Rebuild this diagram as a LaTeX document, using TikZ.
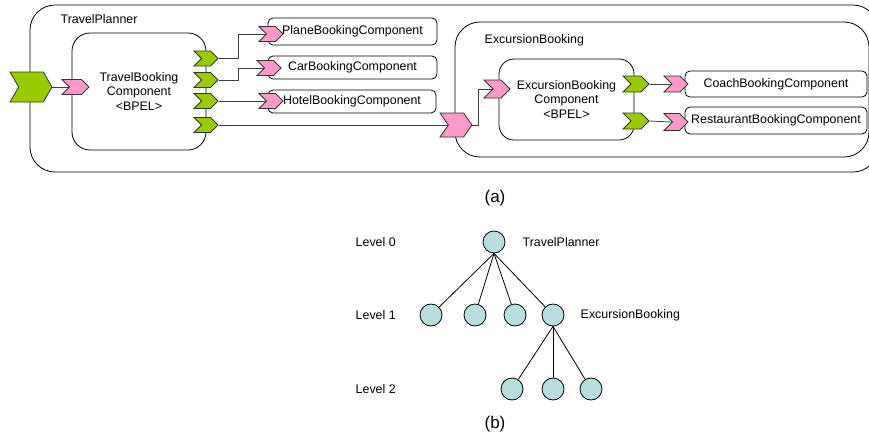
\documentclass[tikz,border=0pt]{standalone}
\usepackage{fontspec}
\setmainfont{Liberation Sans}
\usetikzlibrary{shapes.symbols,backgrounds}

\definecolor{portgreen}{RGB}{153,204,0}
\definecolor{portpink}{RGB}{255,153,204}
\definecolor{nodeblue}{RGB}{183,221,222}
\definecolor{wiregray}{RGB}{64,64,64}

\tikzset{
	port/.style = {signal, signal to = east, signal from = west, draw = black!80, inner sep = 0pt, signal pointer angle = 90},
	outport/.style = {port, fill = portgreen, minimum width = 24pt, minimum height = 15pt},
	inport/.style = {port, fill = portpink, minimum width = 24pt, minimum height = 15pt},
	comp/.style = {draw, rounded corners = 5pt, inner sep = 0pt},
	composite/.style = {draw, rounded corners = 25pt, inner sep = 0pt},
	wire/.style = {draw = wiregray, line width = 0.8pt},
	treenode/.style = {circle, draw, fill = nodeblue, minimum size = 22pt, inner sep = 0pt}
}

\begin{document}
\begin{tikzpicture}[x = 1pt, y = -1pt, line width = 0.8pt, font = \fontsize{12.4}{14.5}\selectfont]

	\clip (0, 0) rectangle (869, 437);
	\useasboundingbox (0, 0) rectangle (869, 437);

	% (a) composite
	\node[composite, minimum width = 848pt, minimum height = 167pt] (travelplanner) at (454, 88.5) {};
	\node[anchor = west] (tplabel) at (57, 19) {TravelPlanner};

	\node[comp, rounded corners = 18pt, minimum width = 134pt, minimum height = 117pt, align = center] (travelbooking) at (139, 91.5) {TravelBooking\\Component\\<BPEL>};

	\node[comp, minimum width = 169pt, minimum height = 27pt] (plane) at (352.5, 31.5) {PlaneBookingComponent};
	\node[comp, minimum width = 169pt, minimum height = 23pt] (car) at (352.5, 67.5) {CarBookingComponent};
	\node[comp, minimum width = 168pt, minimum height = 23pt] (hotel) at (352, 101.5) {HotelBookingComponent};

	\node[composite, minimum width = 414pt, minimum height = 135pt] (excursion) at (662, 89.5) {};
	\node[anchor = west] (exlabel) at (481, 40) {ExcursionBooking};

	\node[comp, rounded corners = 15pt, minimum width = 135pt, minimum height = 81pt, align = center] (excbooking) at (566.5, 99.5) {ExcursionBooking\\Component\\<BPEL>};

	\node[comp, minimum width = 182pt, minimum height = 26pt] (coach) at (776, 84) {CoachBookingComponent};
	\node[comp, minimum width = 182pt, minimum height = 27pt] (restaurant) at (776, 120.5) {RestaurantBookingComponent};

	% ports
	\node[outport, minimum width = 42pt, minimum height = 30pt, signal pointer angle = 120] (tpin) at (31, 87) {};
	\node[inport, minimum width = 27pt] (tbin) at (75.5, 87) {};
	\node[outport] (tbout1) at (206, 58.5) {};
	\node[outport] (tbout2) at (206, 80) {};
	\node[outport] (tbout3) at (206, 101) {};
	\node[outport] (tbout4) at (206, 125) {};
	\node[inport] (plin) at (271, 34) {};
	\node[inport] (carin) at (269, 68) {};
	\node[inport] (hotin) at (271, 101) {};
	\node[inport, minimum width = 32pt, minimum height = 24pt, signal pointer angle = 110] (exin) at (456, 125) {};
	\node[inport, minimum width = 26pt, minimum height = 18pt] (ebin) at (497, 89) {};
	\node[outport, minimum width = 26pt, minimum height = 16pt] (ebout1) at (636, 84) {};
	\node[outport, minimum width = 26pt, minimum height = 16pt] (ebout2) at (636, 121) {};
	\node[inport, minimum height = 16pt] (coin) at (676, 84) {};
	\node[inport, minimum height = 17pt] (rein) at (676, 122) {};

	\begin{scope}[on background layer]
		\draw[wire] (tpin.east) -- (tbin.west);
		\draw[wire] (tbout1.east) -- ++(20, 0) |- (plin.west);
		\draw[wire] (tbout2.east) -- ++(20, 0) |- (carin.west);
		\draw[wire] (tbout3.east) -- (hotin.west);
		\draw[wire] (tbout4.east) -- (exin.west);
		\draw[wire] (exin.east) -- ++(6, 0) |- (ebin.west);
		\draw[wire] (ebout1.east) -- (coin.west);
		\draw[wire] (ebout2.east) -- (rein.west);
	\end{scope}

	\node[font = \fontsize{17}{20}\selectfont] (capa) at (495, 198) {(a)};

	% (b) hierarchy
	\node[anchor = west] (lv0) at (352, 242) {Level 0};
	\node[anchor = west] (lv1) at (352, 315) {Level 1};
	\node[anchor = west] (lv2) at (352, 389) {Level 2};

	\node[treenode] (root) at (494, 242) {};
	\node[anchor = west] (rootlabel) at (519, 242) {TravelPlanner};

	\node[treenode] (c1) at (431, 315) {};
	\node[treenode] (c2) at (475, 315) {};
	\node[treenode] (c3) at (515, 315) {};
	\node[treenode] (c4) at (553, 315) {};
	\node[anchor = west] (c4label) at (577, 315) {ExcursionBooking};

	\node[treenode] (g1) at (512, 389) {};
	\node[treenode] (g2) at (553, 389) {};
	\node[treenode] (g3) at (591, 389) {};

	\foreach \c in {c1, c2, c3, c4}
		\draw (root.south) -- (\c);
	\foreach \g in {g1, g2, g3}
		\draw (c4.south) -- (\g);

	\node[font = \fontsize{17}{20}\selectfont] (capb) at (495, 424) {(b)};

\end{tikzpicture}
\end{document}
